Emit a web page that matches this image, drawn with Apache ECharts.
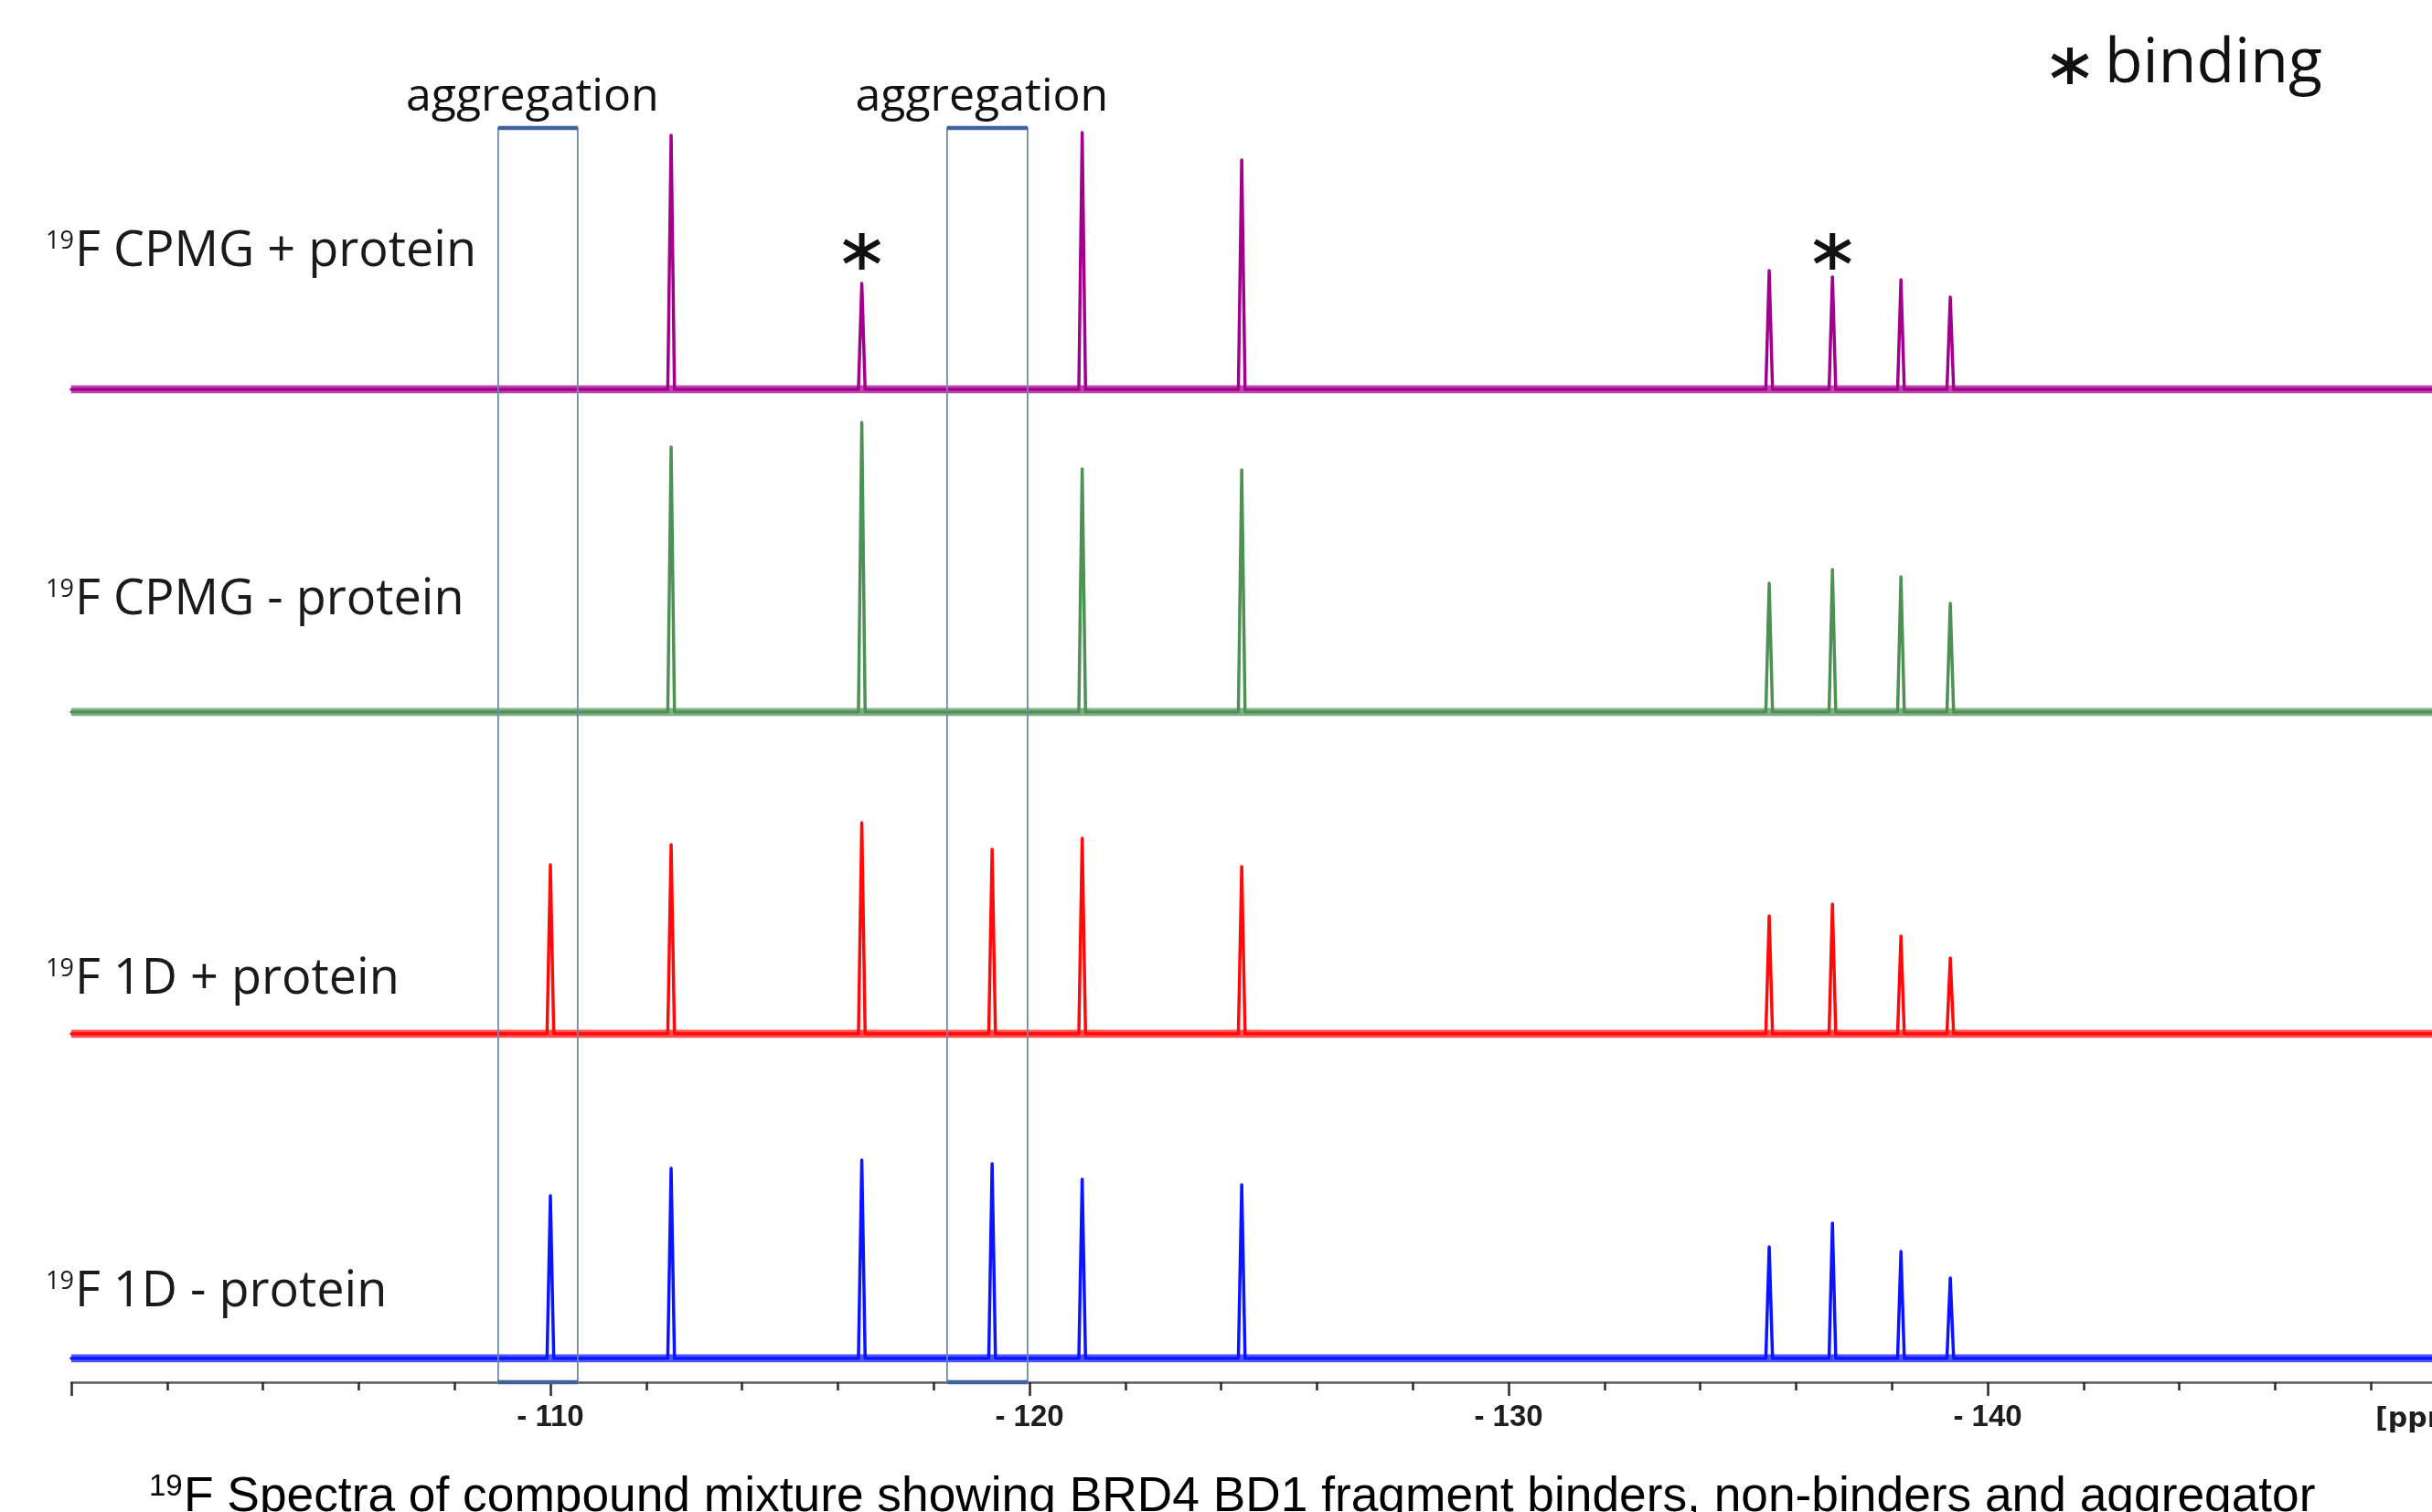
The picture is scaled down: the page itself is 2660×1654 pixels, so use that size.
<!DOCTYPE html>
<html><head><meta charset="utf-8">
<script src="https://cdn.jsdelivr.net/npm/echarts@6/dist/echarts.min.js"></script>
<style>html,body{margin:0;padding:0;background:#fff;overflow:hidden}#c{width:2720px;height:1654px}</style>
</head><body><div id="c"></div>
<script>
// ---- data (chemical shift in ppm, peak heights in arbitrary intensity units) ----
const peakPPM   = [-110.0, -112.52, -116.5, -119.22, -121.1, -124.43, -135.44, -136.76, -138.19, -139.22];
const cpmgPlus  = [0, 278, 116, 0, 281, 251, 130, 123, 120, 101];
const cpmgMinus = [0, 290, 317, 0, 266, 265, 141, 156, 148, 119];
const oneDPlus  = [185, 207, 231, 202, 214, 183, 129, 142, 107, 83];
const oneDMinus = [178, 208, 217, 213, 196, 190, 122, 148, 117, 88];
const traceLabels = ['F CPMG + protein', 'F CPMG - protein', 'F 1D + protein', 'F 1D - protein'];
const aggregationRanges = [[-108.91, -110.57], [-118.28, -119.96]];
const bindingPPM = [-116.5, -136.76];
const ppmRange = [-150, -100];
const tickLabels = [-110, -120, -130, -140];

// ---- styles / layout ----
const traceColors = ['#a1008c', '#4f9155', '#ff0a0a', '#0a14ff'];
const baselinesPx = [426, 779, 1131, 1486];
const rowLabelY = [276, 657, 1072, 1414];
const GRID_LEFT = 78, GRID_WIDTH = 2620, ROW_H = 330;
const HALF_W = 0.07;

function traceData(h) {
  const pts = [[ppmRange[1], 0]];
  peakPPM.forEach((p, i) => {
    if (h[i] > 0) { pts.push([p + HALF_W, 0], [p, h[i]], [p - HALF_W, 0]); }
  });
  pts.push([ppmRange[0], 0]);
  return pts;
}
const traces = [cpmgPlus, cpmgMinus, oneDPlus, oneDMinus];

const grids = [], xAxes = [], yAxes = [], series = [];
traces.forEach((h, i) => {
  grids.push({ left: GRID_LEFT, width: GRID_WIDTH, top: baselinesPx[i] - ROW_H, height: ROW_H });
  xAxes.push({ gridIndex: i, type: 'value', min: ppmRange[0], max: ppmRange[1], inverse: true, show: false });
  yAxes.push({ gridIndex: i, type: 'value', min: 0, max: ROW_H, show: false });
  series.push({
    type: 'line', xAxisIndex: i, yAxisIndex: i, silent: true,
    data: [[ppmRange[1], 0], [ppmRange[0], 0]], showSymbol: false,
    lineStyle: { color: traceColors[i], width: 9, opacity: 0.72 }, z: 2
  });
  series.push({
    type: 'line', xAxisIndex: i, yAxisIndex: i, silent: true,
    data: traceData(h), showSymbol: false,
    lineStyle: { color: traceColors[i], width: 3.5, join: 'round', cap: 'round' }, z: 3
  });
});
// axis grid (shared ppm scale, also holds aggregation boxes)
grids.push({ left: GRID_LEFT, width: GRID_WIDTH, top: 140, height: 1372 });
xAxes.push({
  gridIndex: 4, type: 'value', min: ppmRange[0], max: ppmRange[1], inverse: true, interval: 10,
  splitLine: { show: false },
  axisLine: { show: true, lineStyle: { color: '#5c5c5c', width: 2.5 } },
  axisTick: { show: true, length: 15, lineStyle: { color: '#2a2a2a', width: 2.5 } },
  minorTick: { show: true, splitNumber: 5, length: 9, lineStyle: { color: '#2a2a2a', width: 2.5 } },
  axisLabel: {
    show: true, margin: 22, fontFamily: 'Liberation Sans', fontWeight: 'bold', fontSize: 33, color: '#1e1e1e',
    formatter: v => tickLabels.includes(v) ? '- ' + Math.abs(v) : ''
  }
});
yAxes.push({ gridIndex: 4, type: 'value', min: 0, max: 1, show: false });

series.push({
  type: 'custom', xAxisIndex: 4, yAxisIndex: 4, silent: true, z: 5,
  data: aggregationRanges,
  renderItem: (params, api) => {
    const p1 = api.coord([api.value(0), 1]);
    const p2 = api.coord([api.value(1), 0]);
    const x1 = p1[0], y1 = p1[1], x2 = p2[0], y2 = p2[1];
    return {
      type: 'group', children: [
        { type: 'rect', shape: { x: x1, y: y1, width: x2 - x1, height: y2 - y1 }, style: { fill: null, stroke: '#6c89b0', lineWidth: 1.8 } },
        { type: 'line', shape: { x1: x1, y1: y1, x2: x2, y2: y1 }, style: { stroke: '#40649a', lineWidth: 4.5 } },
        { type: 'line', shape: { x1: x1, y1: y2, x2: x2, y2: y2 }, style: { stroke: '#40649a', lineWidth: 4.5 } },
        { type: 'text', x: (x1 + x2) / 2 - 6, y: y1 - 33, style: { text: 'aggregation', fill: '#111', font: '50px "Open Sans"', align: 'center', verticalAlign: 'middle' } }
      ]
    };
  }
});

function asterisk(cx, cy, color) {
  const arms = [[90, 20], [30, 22], [150, 22]];
  return arms.map(([deg, r]) => {
    const a = deg * Math.PI / 180;
    return { type: 'line', shape: { x1: cx - r * Math.cos(a), y1: cy - r * Math.sin(a), x2: cx + r * Math.cos(a), y2: cy + r * Math.sin(a) }, style: { stroke: color, lineWidth: 6 } };
  });
}
const MARK_LEVEL = 151;
series.push({
  type: 'custom', xAxisIndex: 0, yAxisIndex: 0, silent: true, z: 6,
  data: bindingPPM.map(p => [p, MARK_LEVEL]),
  renderItem: (params, api) => {
    const c = api.coord([api.value(0), api.value(1)]);
    return { type: 'group', children: asterisk(c[0], c[1], '#111') };
  }
});

const graphic = [];
traceLabels.forEach((t, i) => {
  graphic.push({ type: 'text', x: 50, y: rowLabelY[i] - 25, style: { text: '19', font: '27px "Open Sans"', fill: '#1a1a1a', align: 'left', verticalAlign: 'top' } });
  graphic.push({ type: 'text', x: 82, y: rowLabelY[i], style: { text: t, font: '54px "Open Sans"', fill: '#1a1a1a', align: 'left', verticalAlign: 'middle' } });
});
graphic.push({ type: 'group', children: asterisk(2264, 72, '#111') });
graphic.push({ type: 'text', x: 2302, y: 71, style: { text: 'binding', font: '68px "Open Sans"', fill: '#111', align: 'left', verticalAlign: 'middle' } });
graphic.push({ type: 'text', x: 2598, y: 1553, style: { text: '[ppm]', font: 'bold 30px "DejaVu Sans"', fill: '#1e1e1e', align: 'left', verticalAlign: 'middle' } });
graphic.push({ type: 'text', x: 163, y: 1610, style: { text: '19', font: '33px "Liberation Sans"', fill: '#000', align: 'left', verticalAlign: 'top' } });
graphic.push({ type: 'text', x: 201, y: 1638, style: { text: 'F Spectra of compound mixture showing BRD4 BD1 fragment binders, non-binders and aggregator', font: '53.3px "Liberation Sans"', fill: '#000', align: 'left', verticalAlign: 'middle' } });

const chart = echarts.init(document.getElementById('c'), null, { renderer: 'canvas' });
chart.setOption({
  backgroundColor: '#ffffff',
  animation: false,
  grid: grids, xAxis: xAxes, yAxis: yAxes, series: series, graphic: graphic
});
</script></body></html>
